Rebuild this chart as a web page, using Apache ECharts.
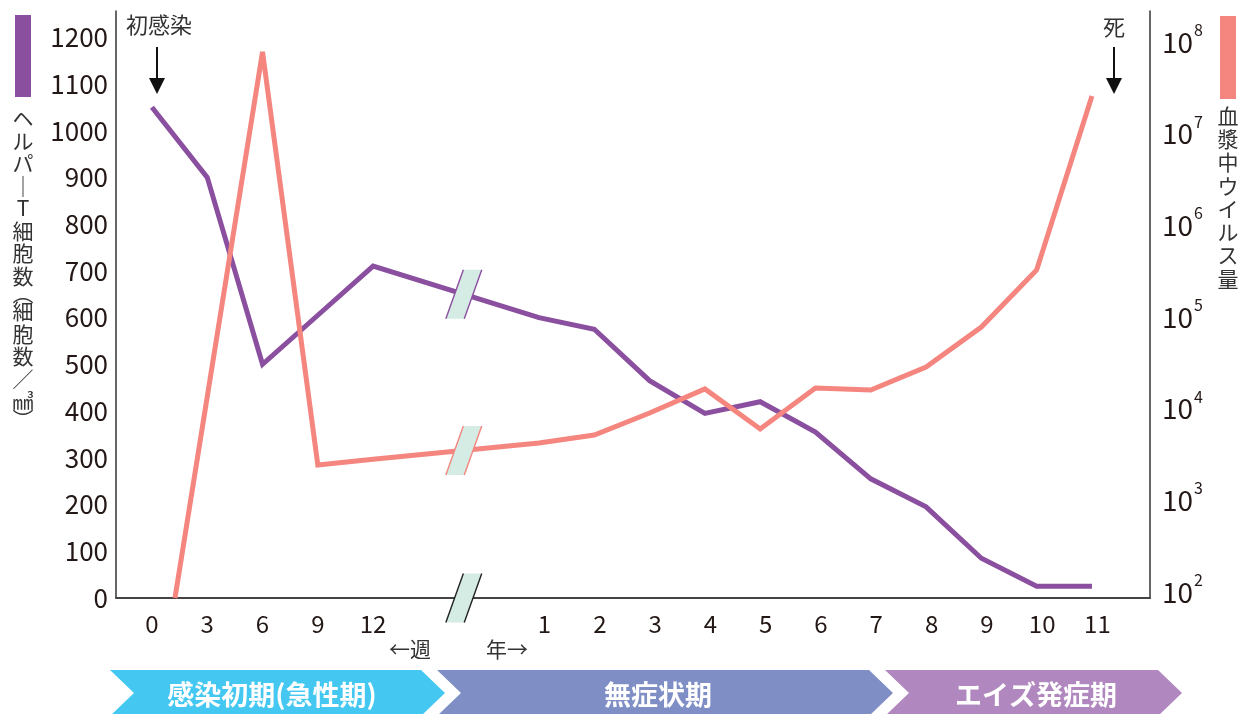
<!DOCTYPE html>
<html><head><meta charset="utf-8">
<script src="https://cdn.jsdelivr.net/npm/echarts@6/dist/echarts.min.js"></script>
<style>html,body{margin:0;padding:0;background:#fff}#c{width:1246px;height:714px}</style>
</head><body><div id="c"></div>
<script>
// ---- data ----
const weekLabels = ['0', '3', '6', '9', '12'];
const weekSlots = [0, 1, 2, 3, 4];
const yearLabels = ['1', '2', '3', '4', '5', '6', '7', '8', '9', '10', '11'];
const yearSlots = [7, 8, 9, 10, 11, 12, 13, 14, 15, 16, 17];
const breakSlot = 5.64;

// helper T cell count (cells / mm3)
const cd4Weeks = [1050, 900, 500, 605, 710];
const cd4Years = [600, 575, 465, 395, 420, 355, 255, 195, 85, 25, 25];

// plasma viral load (copies) — log scale
const virusOnsetWeek = 1.25;
const virusOnsetValue = 86;
const virusWeekSlots = [2, 3, 4];          // weeks 6, 9, 12
const virusWeeks = [7.8e7, 2430, 2800];
const virusYears = [4220, 5160, 8980, 16400, 6000, 16800, 16000, 28500, 77800, 326000, 2.58e7];

const leftAxisTitle = ['ヘ','ル','パ','｜','T','細','胞','数','︵','細','胞','数','／','㎣','︶'];
const rightAxisTitle = ['血','漿','中','ウ','イ','ル','ス','量'];
const phaseNames = ['感染初期(急性期)', '無症状期', 'エイズ発症期'];

// ---- styles ----
const PURPLE = '#8B4F9F';
const PINK = '#F4857F';
const TXT = '#231815';
const FONT = '"Noto Sans CJK JP", "Noto Sans", sans-serif';
const phaseColors = ['#44C8F2', '#7F8FC6', '#B087BE'];

const slotLabel = {};
weekSlots.forEach((s, i) => slotLabel[s] = '{w|' + weekLabels[i] + '}');
yearSlots.forEach((s, i) => slotLabel[s] = '{y|' + yearLabels[i] + '}');

const cd4Data = weekSlots.map((s, i) => [s, cd4Weeks[i]])
  .concat(yearSlots.map((s, i) => [s, cd4Years[i]]));
const virusData = [[virusOnsetWeek / 3, virusOnsetValue]]
  .concat(virusWeekSlots.map((s, i) => [s, virusWeeks[i]]))
  .concat(yearSlots.map((s, i) => [s, virusYears[i]]));

function breakMarker(yAxisIndex, a, b, stroke) {
  return {
    type: 'custom', yAxisIndex: yAxisIndex, z: 10, silent: true, clip: false,
    data: [[breakSlot, a[1]]],
    renderItem: function (params, api) {
      const p1 = api.coord(a), p2 = api.coord(b);
      const cx = api.coord([breakSlot, a[1]])[0];
      const t = (cx - p1[0]) / (p2[0] - p1[0]);
      const cy = p1[1] + t * (p2[1] - p1[1]);
      const h = 24.5, w = 18.4, s = 17.5;
      const TL = [cx - w / 2 + s / 2, cy - h], TR = [cx + w / 2 + s / 2, cy - h];
      const BL = [cx - w / 2 - s / 2, cy + h], BR = [cx + w / 2 - s / 2, cy + h];
      return {
        type: 'group', children: [
          { type: 'polygon', shape: { points: [TL, TR, BR, BL] }, style: { fill: '#D5ECE4' } },
          { type: 'line', shape: { x1: TL[0], y1: TL[1], x2: BL[0], y2: BL[1] }, style: { stroke: stroke, lineWidth: 1.4 } },
          { type: 'line', shape: { x1: TR[0], y1: TR[1], x2: BR[0], y2: BR[1] }, style: { stroke: stroke, lineWidth: 1.4 } }
        ]
      };
    }
  };
}

function vtext(chars, parenSet) {
  return chars.map(c => (parenSet.indexOf(c) >= 0 ? '{p|' : '{c|') + c + '}').join('\n');
}

function chevron(x0, x1, color) {
  const top = 670, mid = 693, bot = 716, d = 24;
  return { type: 'polygon', shape: { points: [[x0, top], [x1 - d, top], [x1, mid], [x1 - d, bot], [x0, bot], [x0 + d, mid]] }, style: { fill: color } };
}

function arrow(x, y0, y1) {
  return [
    { type: 'line', shape: { x1: x, y1: y0, x2: x, y2: y1 - 12 }, style: { stroke: '#111', lineWidth: 2 } },
    { type: 'polygon', shape: { points: [[x - 8, y1 - 16], [x + 8, y1 - 16], [x, y1]] }, style: { fill: '#111' } }
  ];
}

const chart = echarts.init(document.getElementById('c'), null, { renderer: 'canvas' });
const option = {
  animation: false,
  textStyle: { fontFamily: FONT },
  grid: { left: 116, right: 96, top: 11, bottom: 116, containLabel: false },
  xAxis: {
    type: 'value', min: -0.65, max: 18.05,
    axisLine: { show: true, onZero: false, lineStyle: { color: '#444', width: 2 } },
    axisTick: { show: false }, splitLine: { show: false },
    axisLabel: {
      customValues: weekSlots.concat(yearSlots),
      formatter: v => (slotLabel[v] !== undefined ? slotLabel[v] : ''),
      fontSize: 24, color: TXT, margin: 14, fontFamily: FONT,
      rich: {
        w: { fontSize: 24, color: TXT, fontFamily: FONT },
        y: { fontSize: 24, color: TXT, fontFamily: FONT, padding: [0, 0, 0, 11] }
      }
    }
  },
  yAxis: [{
    type: 'value', min: 0, max: 1256, interval: 100, position: 'left',
    axisLine: { show: true, onZero: false, lineStyle: { color: '#333', width: 1.5 } },
    axisTick: { show: false }, splitLine: { show: false },
    axisLabel: { showMaxLabel: false, fontSize: 26, color: TXT, margin: 8, fontFamily: FONT, formatter: v => String(v) }
  }, {
    type: 'log', logBase: 10, min: 86, max: 2.18e8, position: 'right',
    axisLine: { show: true, onZero: false, lineStyle: { color: '#333', width: 1.5 } },
    axisTick: { show: false }, splitLine: { show: false },
    axisLabel: {
      showMinLabel: false, showMaxLabel: false, margin: 12, color: TXT,
      formatter: function (v) {
        const e = Math.log10(v);
        if (Math.abs(e - Math.round(e)) > 0.01) return '';
        return '{b|10}{s|' + Math.round(e) + '}';
      },
      rich: {
        b: { fontSize: 28, lineHeight: 28, color: TXT, fontFamily: FONT },
        s: { fontSize: 16, padding: [0, 0, 24, 1], color: TXT, fontFamily: FONT }
      }
    }
  }],
  series: [
    {
      type: 'line', name: 'CD4', yAxisIndex: 0, data: cd4Data, showSymbol: false, z: 3,
      lineStyle: { color: PURPLE, width: 5, join: 'miter', miterLimit: 3 }, itemStyle: { color: PURPLE }
    },
    {
      type: 'line', name: 'virus', yAxisIndex: 1, data: virusData, showSymbol: false, z: 4,
      lineStyle: { color: PINK, width: 5, join: 'miter', miterLimit: 3 }, itemStyle: { color: PINK }
    },
    breakMarker(0, [4, cd4Weeks[4]], [7, cd4Years[0]], PURPLE),
    breakMarker(1, [3, virusWeeks[1]], [7, virusYears[0]], PINK),
    breakMarker(0, [4, 0], [7, 0], '#222')
  ],
  graphic: [
    { type: 'rect', shape: { x: 15, y: 15, width: 16, height: 82 }, style: { fill: PURPLE } },
    { type: 'rect', shape: { x: 1220, y: 16, width: 16, height: 83 }, style: { fill: PINK } },
    {
      type: 'text', x: 23, y: 107,
      style: {
        text: vtext(leftAxisTitle, ['︵', '︶']), align: 'center', verticalAlign: 'top', fill: '#333',
        rich: {
          c: { fontSize: 21, lineHeight: 22.5, fill: '#333', align: 'center', fontFamily: FONT },
          p: { fontSize: 21, lineHeight: 13, fill: '#333', align: 'center', fontFamily: FONT }
        }
      }
    },
    {
      type: 'text', x: 1228, y: 104,
      style: {
        text: vtext(rightAxisTitle, []), align: 'center', verticalAlign: 'top', fill: '#333',
        rich: { c: { fontSize: 21, lineHeight: 23.3, fill: '#333', align: 'center', fontFamily: FONT } }
      }
    },
    { type: 'text', x: 159, y: 25, style: { text: '初感染', fontSize: 22, fill: '#333', align: 'center', verticalAlign: 'middle', fontFamily: FONT } },
    { type: 'text', x: 1114, y: 27, style: { text: '死', fontSize: 22, fill: '#333', align: 'center', verticalAlign: 'middle', fontFamily: FONT } },
    ...arrow(157, 47, 94),
    ...arrow(1114, 47, 94),
    { type: 'text', x: 410, y: 649, style: { text: '←週', fontSize: 21, fill: '#333', align: 'center', verticalAlign: 'middle', fontFamily: FONT } },
    { type: 'text', x: 507, y: 649, style: { text: '年→', fontSize: 21, fill: '#333', align: 'center', verticalAlign: 'middle', fontFamily: FONT } },
    chevron(110, 445, phaseColors[0]),
    chevron(437, 893, phaseColors[1]),
    chevron(885, 1182, phaseColors[2]),
    { type: 'text', x: 272, y: 695, z: 10, style: { text: phaseNames[0], fontSize: 27, fontWeight: 'bold', fill: '#fff', align: 'center', verticalAlign: 'middle', fontFamily: FONT } },
    { type: 'text', x: 658, y: 695, z: 10, style: { text: phaseNames[1], fontSize: 27, fontWeight: 'bold', fill: '#fff', align: 'center', verticalAlign: 'middle', fontFamily: FONT } },
    { type: 'text', x: 1036, y: 695, z: 10, style: { text: phaseNames[2], fontSize: 27, fontWeight: 'bold', fill: '#fff', align: 'center', verticalAlign: 'middle', fontFamily: FONT } }
  ]
};
chart.setOption(option);
</script></body></html>
